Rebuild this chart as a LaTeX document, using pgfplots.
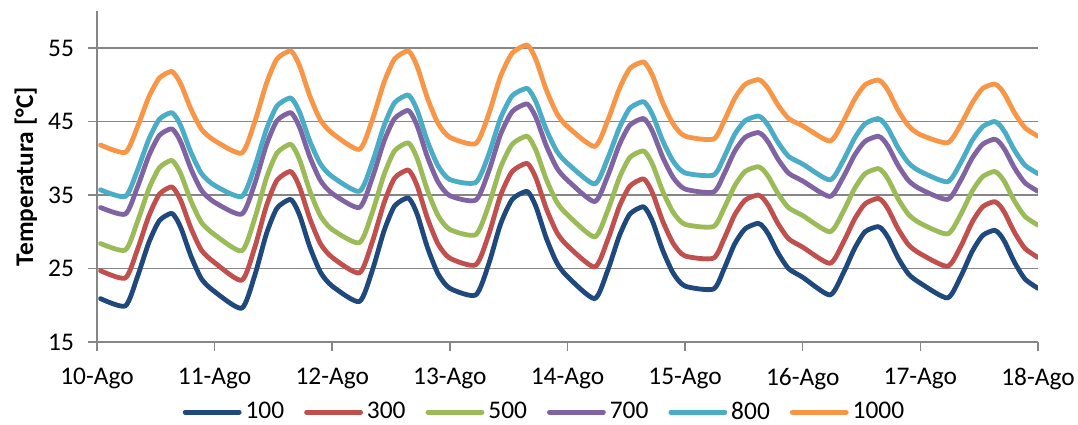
\documentclass[border=0pt]{standalone}
\usepackage{fontspec}
\setmainfont{Carlito}
\usepackage{pgfplots}
\usepackage{pgfplotstable}
\pgfplotsset{compat=1.18}
\definecolor{cA}{HTML}{1F497D}
\definecolor{cB}{HTML}{C0504D}
\definecolor{cC}{HTML}{9BBB59}
\definecolor{cD}{HTML}{8064A2}
\definecolor{cE}{HTML}{4BACC6}
\definecolor{cF}{HTML}{F79646}
\definecolor{axgray}{HTML}{868686}
\pgfplotstableread{
t a b c d e f
0.03 20.9 24.7 28.4 33.3 35.7 41.8
0.24 19.9 23.7 27.5 32.4 34.8 40.8
0.34 23.7 27.4 31.2 35.9 38.2 44.1
0.44 28.5 32.1 35.8 40.3 42.55 48.3
0.53 31.5 35.1 38.7 43.1 45.3 50.9
0.63 32.5 36.1 39.7 44.0 46.2 51.8
0.675 31.75 35.38 38.99 43.3 45.51 51.14
0.72 30.26 33.94 37.58 41.9 44.12 49.83
0.80 26.64 30.43 34.14 38.5 40.75 46.63
0.89 23.55 27.45 31.22 35.6 37.88 43.9
1.00 21.85 25.8 29.6 34.0 36.3 42.4
1.23 19.6 23.4 27.4 32.4 34.8 40.7
1.34 24.0 27.8 31.75 36.5 38.8 44.9
1.44 29.7 33.5 37.3 41.8 43.9 50.15
1.53 33.2 37.0 40.7 45.1 47.1 53.5
1.64 34.4 38.2 41.9 46.2 48.2 54.6
1.685 33.57 37.38 41.09 45.43 47.45 53.82
1.73 31.92 35.74 39.46 43.89 45.95 52.25
1.81 27.91 31.76 35.52 40.15 42.31 48.44
1.90 24.49 28.37 32.16 36.96 39.21 45.19
2.00 22.6 26.5 30.3 35.2 37.5 43.4
2.23 20.5 24.4 28.5 33.3 35.5 41.2
2.34 24.7 28.6 32.6 37.3 39.4 45.2
2.44 30.1 33.9 37.75 42.3 44.4 50.3
2.53 33.5 37.3 41.0 45.4 47.55 53.5
2.64 34.6 38.4 42.1 46.5 48.6 54.6
2.685 33.74 37.56 41.27 45.69 47.79 53.78
2.73 32.02 35.88 39.62 44.06 46.18 52.13
2.81 27.83 31.8 35.61 40.12 42.27 48.14
2.90 24.27 28.32 32.19 36.76 38.94 44.73
3.00 22.3 26.4 30.3 34.9 37.1 42.85
3.22 21.4 25.5 29.6 34.3 36.7 42.0
3.33 25.6 29.6 33.6 38.2 40.5 46.0
3.43 31.0 34.9 38.7 43.2 45.4 51.1
3.53 34.4 38.2 41.9 46.35 48.5 54.3
3.65 35.5 39.3 43.0 47.4 49.5 55.4
3.695 34.69 38.52 42.25 46.67 48.79 54.62
3.74 33.06 36.95 40.75 45.22 47.36 53.07
3.82 29.12 33.14 37.11 41.68 43.89 49.29
3.91 25.76 29.89 34.01 38.66 40.93 46.08
4.00 23.9 28.1 32.3 37.0 39.3 44.3
4.23 20.9 25.2 29.3 34.1 36.5 41.6
4.34 24.65 28.8 32.8 37.5 39.9 45.05
4.44 29.4 33.4 37.3 41.8 44.1 49.4
4.53 32.4 36.2 40.1 44.5 46.8 52.2
4.64 33.4 37.2 41.0 45.4 47.7 53.1
4.685 32.64 36.46 40.3 44.73 47.02 52.39
4.73 31.13 34.99 38.9 43.38 45.66 50.98
4.81 27.46 31.42 35.5 40.12 42.36 47.54
4.90 24.33 28.38 32.6 37.34 39.55 44.62
5.00 22.6 26.7 31.0 35.8 38.0 43.0
5.24 22.2 26.4 30.7 35.4 37.7 42.6
5.33 24.9 29.0 33.15 37.8 40.1 45.0
5.42 28.3 32.25 36.2 40.9 43.2 48.1
5.51 30.4 34.3 38.2 42.85 45.1 50.05
5.62 31.15 35.0 38.85 43.5 45.75 50.7
5.665 30.64 34.5 38.38 43.04 45.29 50.26
5.71 29.61 33.51 37.45 42.11 44.37 49.38
5.79 27.11 31.09 35.19 39.87 42.15 47.23
5.88 24.98 29.04 33.26 37.96 40.25 45.41
6.00 23.8 27.9 32.2 36.9 39.2 44.4
6.23 21.4 25.7 30.0 34.8 37.05 42.35
6.34 24.2 28.4 32.6 37.3 39.55 44.85
6.44 27.7 31.7 35.85 40.4 42.7 48.0
6.53 30.0 33.8 37.9 42.3 44.7 50.0
6.64 30.7 34.55 38.6 43.0 45.4 50.65
6.685 30.16 34.02 38.08 42.5 44.9 50.13
6.73 29.08 32.96 37.04 41.49 43.89 49.09
6.81 26.46 30.4 34.5 39.04 41.44 46.55
6.90 24.23 28.21 32.34 36.95 39.35 44.39
7.00 23.0 27.0 31.15 35.8 38.2 43.2
7.23 21.0 25.3 29.7 34.4 36.8 42.1
7.34 23.8 27.9 32.25 36.9 39.3 44.5
7.44 27.3 31.3 35.5 40.0 42.4 47.5
7.53 29.5 33.4 37.5 41.9 44.3 49.5
7.63 30.2 34.1 38.2 42.6 45.0 50.1
7.675 29.65 33.57 37.69 42.1 44.5 49.6
7.72 28.54 32.5 36.67 41.11 43.51 48.61
7.80 25.85 29.92 34.18 38.69 41.09 46.19
7.89 23.56 27.72 32.07 36.64 39.04 44.14
8.00 22.3 26.5 30.9 35.5 37.9 43.0
}\datatable
\begin{document}
\begin{tikzpicture}
\begin{axis}[
  at={(0,0)}, anchor=south west,
  scale only axis, width=470.5pt, height=165.4pt,
  xmin=0, xmax=8, ymin=15, ymax=60,
  axis x line*=bottom, axis y line*=left,
  axis line style={draw=axgray, line width=0.75pt},
  xtick={0,1,2,3,4,5,6,7,8},
  xticklabels={10-Ago,11-Ago,12-Ago,13-Ago,14-Ago,15-Ago,16-Ago,17-Ago,18-Ago},
  ytick={15,25,35,45,55},
  ymajorgrids, grid style={draw=axgray, line width=0.75pt},
  tick align=outside, major tick length=4.5pt,
  major tick style={draw=axgray, line width=0.75pt},
  /pgf/number format/assume math mode=true,
  tick label style={font=\fontsize{12.7pt}{15pt}\selectfont, text=black},
  yticklabel style={xshift=-3.5pt},
  xticklabel style={yshift=-5pt},
  ylabel={Temperatura [°C]},
  ylabel style={at={(axis description cs:-0.0755,0.5)}, anchor=center, font=\bfseries\fontsize{12.7pt}{15pt}\selectfont},
  legend columns=6,
  legend style={at={(0.4766,-0.212)}, anchor=center, draw=none, fill=none,
    font=\fontsize{12.7pt}{15pt}\selectfont,
    /tikz/every even column/.append style={column sep=8pt}},
  legend image code/.code={\draw[#1, line cap=round] (0pt,0pt) -- (27pt,0pt);},
  every axis plot/.append style={line width=2.4pt, smooth, tension=0.4, line join=round, line cap=round},
]
\addplot[cA] table[x=t, y=a] {\datatable};
\addlegendentry{100}
\addplot[cB] table[x=t, y=b] {\datatable};
\addlegendentry{300}
\addplot[cC] table[x=t, y=c] {\datatable};
\addlegendentry{500}
\addplot[cD] table[x=t, y=d] {\datatable};
\addlegendentry{700}
\addplot[cE] table[x=t, y=e] {\datatable};
\addlegendentry{800}
\addplot[cF] table[x=t, y=f] {\datatable};
\addlegendentry{1000}
\end{axis}
\pgfresetboundingbox
\path[use as bounding box] (-48.5pt,-41pt) rectangle (490.5pt,171pt);
\end{tikzpicture}
\end{document}
